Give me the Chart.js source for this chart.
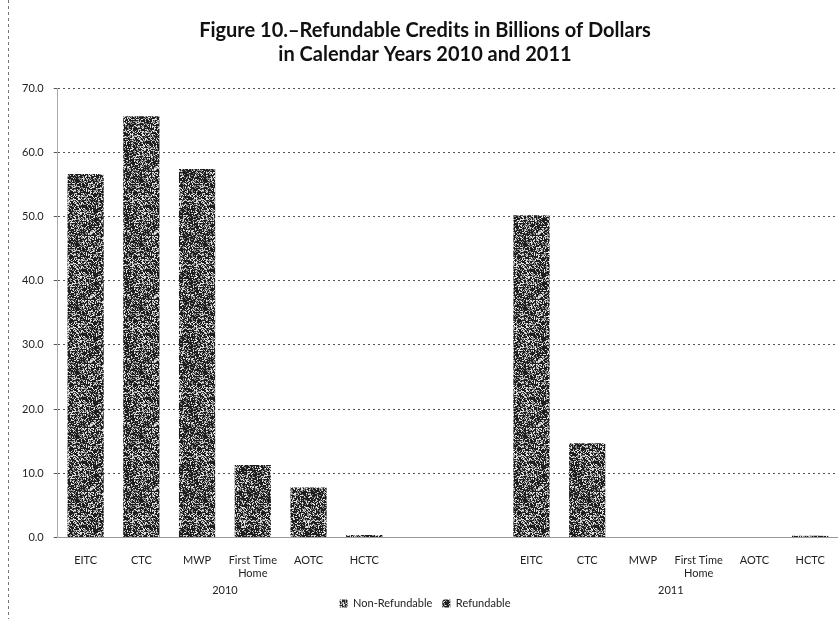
<!DOCTYPE html>
<html>
<head>
<meta charset="utf-8">
<script src="https://cdn.jsdelivr.net/npm/chart.js@4/dist/chart.umd.min.js"></script>
<style>
  body { margin: 0; background: #fff; }
  #wrap { width: 838px; height: 619px; }
</style>
</head>
<body>
<div id="wrap"><canvas id="chart" width="838" height="619"></canvas></div>
<script>
// credit names per year, two blank slots separate the years
credits = [['EITC'], ['CTC'], ['MWP'], ['First Time', 'Home'], ['AOTC'], ['HCTC'], [''], [''],
           ['EITC'], ['CTC'], ['MWP'], ['First Time', 'Home'], ['AOTC'], ['HCTC']]
years = ['2010', '2011']
nonRefundable = [0, 0, 0, 0, 0, 0, null, null, 0, 0, 0, 0, 0, 0]
refundable = [56.6, 65.6, 57.4, 11.3, 7.8, 0.4, null, null, 50.2, 14.7, 0, 0, 0, 0.3]
yTicks = [0, 10, 20, 30, 40, 50, 60, 70]

// speckled dark fill, like a photocopied bar
function speckle(dark) {
	var c = document.createElement('canvas')
	c.width = 64; c.height = 64
	var g = c.getContext('2d')
	var img = g.createImageData(64, 64)
	var s = 12345
	for (var i = 0; i < 64 * 64; i++) {
		s = (s * 1103515245 + 12345) & 0x7fffffff
		var r = (s >> 8) % 100
		var v = r < 20 ? 225 : (r < 42 ? 140 : dark)
		img.data[i * 4] = v; img.data[i * 4 + 1] = v; img.data[i * 4 + 2] = v; img.data[i * 4 + 3] = 255
	}
	g.putImageData(img, 0, 0)
	return g.createPattern(c, 'repeat')
}

var ctx = document.getElementById('chart').getContext('2d')

var extras = {
	id: 'extras',
	beforeDraw: function (chart) {
		var c = chart.ctx
		c.save()
		c.strokeStyle = '#777'
		c.setLineDash([3, 3])
		c.lineWidth = 1
		c.beginPath(); c.moveTo(8.5, 0); c.lineTo(8.5, 619); c.stroke()
		c.restore()
	},
	afterDraw: function (chart) {
		var x = chart.scales.x
		var c = chart.ctx
		c.save()
		c.font = '11px Lato'
		c.fillStyle = '#222'
		c.textAlign = 'center'
		c.textBaseline = 'middle'
		c.fillText(years[0], (x.getPixelForValue(0) + x.getPixelForValue(5)) / 2, 590)
		c.fillText(years[1], (x.getPixelForValue(8) + x.getPixelForValue(13)) / 2, 590)
		c.restore()
	}
}

new Chart(ctx, {
	type: 'bar',
	data: {
		labels: credits,
		datasets: [
			{ label: 'Non-Refundable', data: nonRefundable, backgroundColor: speckle(45) },
			{ label: 'Refundable', data: refundable, backgroundColor: speckle(30) }
		]
	},
	options: {
		responsive: false,
		animation: false,
		layout: { padding: { left: 12, right: 0, top: 4, bottom: 0 } },
		datasets: { bar: { categoryPercentage: 0.65, barPercentage: 1 } },
		plugins: {
			title: {
				display: true,
				text: ['Figure 10.\u2013Refundable Credits in Billions of Dollars', 'in Calendar Years 2010 and 2011'],
				font: { family: 'Lato', size: 20, weight: 'bold' },
				color: '#111',
				padding: { top: 15, bottom: 21 },
				lineHeight: 1.05
			},
			legend: {
				position: 'bottom',
				labels: { font: { family: 'Lato', size: 11 }, color: '#222', boxWidth: 8, boxHeight: 8, padding: 10 }
			},
			tooltip: { enabled: false }
		},
		scales: {
			x: {
				stacked: true,
				grid: { display: false },
				border: { color: '#999', dash: [2, 2] },
				ticks: { font: { family: 'Lato', size: 11 }, color: '#222', maxRotation: 0, autoSkip: false, padding: 8 }
			},
			y: {
				stacked: true,
				min: 0,
				max: 70,
				afterBuildTicks: function (axis) { axis.ticks = yTicks.map(function (v) { return { value: v } }) },
				grid: { color: '#555', lineWidth: 1, drawTicks: true, tickLength: 4 },
				border: { color: '#aaa', dash: [2, 3] },
				ticks: {
					font: { family: 'Lato', size: 11 },
					color: '#222',
					padding: 10,
					callback: function (v) { return v.toFixed(1) }
				}
			}
		}
	},
	plugins: [extras]
})
</script>
</body>
</html>
